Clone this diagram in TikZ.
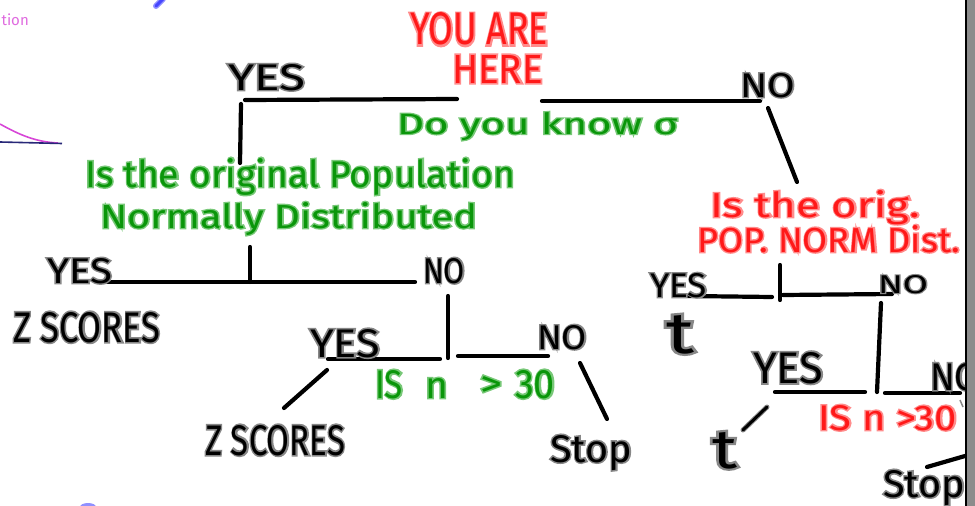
\documentclass[tikz,border=0pt]{standalone}
\usepackage{fontspec}
\usepackage{graphicx}
\setmainfont{Fira Sans}
\newfontfamily\hwmain{Fira Sans}
\newfontfamily\hwhalo[FakeBold=8]{Fira Sans}
\definecolor{inkred}{RGB}{255,25,25}
\definecolor{halored}{RGB}{255,140,140}
\definecolor{inkgreen}{RGB}{10,150,10}
\definecolor{halogreen}{RGB}{120,200,120}
\definecolor{halogray}{RGB}{135,135,135}
\definecolor{inkmag}{RGB}{215,70,215}
\definecolor{inknavy}{RGB}{40,40,120}
\definecolor{inkblue}{RGB}{70,70,255}
\definecolor{bordergray}{RGB}{140,140,140}
\tikzset{
  hwstyle/.style={anchor=base west,inner sep=0pt,outer sep=0pt},
  bar/.style={line width=4.2pt,line cap=round,black}
}
\newcommand\hw[7]{%
  \node[hwstyle,text=#6] (#1h) at (#2) {\resizebox{#3pt}{#4pt}{\fontsize{20}{24}\hwhalo #7}};
  \node[hwstyle,text=#5] (#1) at (#2) {\resizebox{#3pt}{#4pt}{\fontsize{20}{24}\hwmain #7}};}
\begin{document}
\begin{tikzpicture}[x=1pt,y=-1pt]
\useasboundingbox (0,0) rectangle (975,506);
% right border
\fill[bordergray] (967,0) rectangle (975,506);
\draw[black,line width=1.5pt] (966,0) -- (966,506);
% top-left remnants
\node[anchor=base east,inner sep=0pt,text=inkmag!80,font=\fontsize{15}{16}\selectfont] (tion) at (29,25) {tion};
\draw[inkmag,line width=1.6pt] (0,124) .. controls (18,134) and (35,142) .. (58,143);
\draw[inknavy,line width=1.6pt] (0,142) -- (62,143.5);
\draw[inkblue!60,line width=6pt,line cap=round] (156,6) -- (163,-1);
\draw[inkblue,line width=3pt,line cap=round] (156,6) -- (163,-1);
\fill[inkblue!60] (88,507) ellipse (8 and 4);
\begin{scope}
\clip (0,0) rectangle (965,506);
% bars
\draw[bar] (245,100) -- (457,99);
\draw[bar] (542,101) -- (760,101);
\draw[bar] (241,104) -- (240,163);
\draw[bar] (768,108) -- (797,182);
\draw[bar] (250,247) -- (250,282);
\draw[bar] (107,282) -- (415,282);
\draw[bar] (448,296) -- (448,358);
\draw[bar] (328,359) -- (440,359);
\draw[bar] (458,356) -- (548,356);
\draw[bar] (327,370) -- (284,408);
\draw[bar] (580,363) -- (607,419);
\draw[bar] (688,296) -- (772,297);
\draw[bar] (780,265) -- (780,300);
\draw[bar] (783,295) -- (892,294);
\draw[bar] (881,303) -- (877,392);
\draw[bar] (775,392) -- (865,392);
\draw[bar] (885,393) -- (960,393);
\draw[halogray,line width=5pt,line cap=round] (767,407) -- (743,430);
\draw[black,line width=3pt,line cap=round] (767,407) -- (743,430);
\draw[bar] (927,467) -- (965,456);
\draw[halogray,line width=1.5pt] (960,400) -- (963,407);
% texts
\hw{youare}{410,45}{138}{32}{inkred}{halored}{YOU ARE}
\hw{here}{452,83}{91}{28}{inkred}{halored}{HERE}
\hw{doyou}{397,134}{281}{22}{inkgreen}{halogreen}{Do you know σ}
\hw{yesA}{228,90}{77}{26}{black}{halogray}{YES}
\hw{noA}{740,97}{55}{24}{black}{halogray}{NO}
\hw{isthe}{85,187}{430}{29}{inkgreen}{halogreen}{Is the original Population}
\hw{normally}{100,228}{377}{26}{inkgreen}{halogreen}{Normally Distributed}
\hw{istheorig}{710,217}{210}{27}{inkred}{halored}{Is the orig.}
\hw{popnorm}{697,252}{263}{27}{inkred}{halored}{POP. NORM Dist.}
\hw{yesB}{47,283}{65}{25}{black}{halogray}{YES}
\hw{noB}{423,283}{42}{25}{black}{halogray}{NO}
\hw{zscA}{13,342}{147}{30}{black}{halogray}{Z SCORES}
\hw{yesC}{310,357}{70}{28}{black}{halogray}{YES}
\hw{noC}{537,349}{50}{24}{black}{halogray}{NO}
\hw{isA}{375,398}{28}{28}{inkgreen}{halogreen}{IS}
\hw{nA}{425,398}{23}{20}{inkgreen}{halogreen}{n}
\hw{gtA}{480,396}{22}{20}{inkgreen}{halogreen}{>}
\hw{thirtyA}{515,398}{40}{28}{inkgreen}{halogreen}{30}
\hw{zscB}{205,455}{140}{30}{black}{halogray}{Z SCORES}
\hw{stopA}{550,462}{82}{27}{black}{halogray}{Stop}
\hw{yesD}{650,297}{57}{24}{black}{halogray}{YES}
\hw{noD}{878,293}{50}{18}{black}{halogray}{NO}
\hw{tA}{666,353}{28}{38}{black}{halogray}{t}
\hw{yesE}{753,383}{70}{31}{black}{halogray}{YES}
\hw{noE}{930,390}{50}{27}{black}{halogray}{NO}
\hw{isnB}{818,430}{139}{25}{inkred}{halored}{IS n >30}
\hw{tB}{712,468}{25}{36}{black}{halogray}{t}
\hw{stopB}{883,497}{82}{27}{black}{halogray}{Stop}
\end{scope}
\end{tikzpicture}
\end{document}
